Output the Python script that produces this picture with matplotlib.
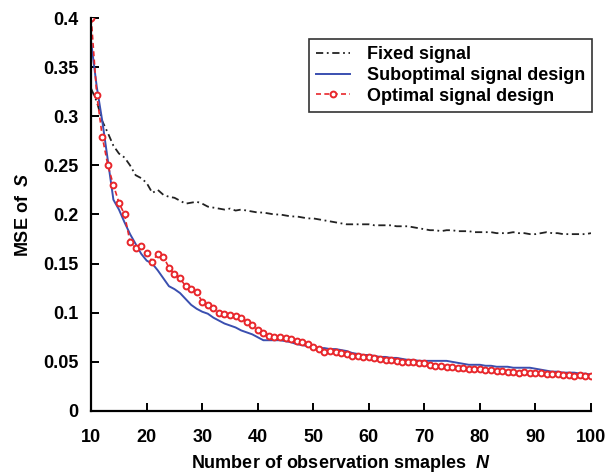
import numpy as np
import matplotlib
matplotlib.use('Agg')
import matplotlib.pyplot as plt

plt.rcParams['font.family'] = 'Liberation Sans'
plt.rcParams['font.weight'] = 'bold'
plt.rcParams['mathtext.fontset'] = 'custom'
plt.rcParams['mathtext.it'] = 'Liberation Sans:italic:bold'
plt.rcParams['mathtext.rm'] = 'Liberation Sans:bold'

n_samples = np.arange(10, 101)

fixed_signal = [
    0.328, 0.315, 0.295, 0.283, 0.270, 0.262, 0.258, 0.250, 0.240, 0.237,
    0.232, 0.222, 0.225, 0.220, 0.218, 0.217, 0.214, 0.211, 0.212, 0.213,
    0.211, 0.208, 0.207, 0.206, 0.205, 0.206, 0.204, 0.205, 0.204, 0.203,
    0.202, 0.202, 0.201, 0.200, 0.200, 0.199, 0.198, 0.198, 0.197, 0.196,
    0.196, 0.195, 0.194, 0.193, 0.192, 0.191, 0.190, 0.190, 0.190, 0.190,
    0.190, 0.189, 0.189, 0.189, 0.189, 0.188, 0.188, 0.188, 0.187, 0.186,
    0.185, 0.184, 0.184, 0.183, 0.184, 0.184, 0.183, 0.183, 0.183, 0.182,
    0.182, 0.182, 0.182, 0.181, 0.181, 0.181, 0.182, 0.181, 0.181, 0.180,
    0.180, 0.181, 0.182, 0.181, 0.181, 0.180, 0.180, 0.180, 0.180, 0.180,
    0.181,
]

suboptimal = [
    0.375, 0.330, 0.295, 0.255, 0.215, 0.205, 0.192, 0.180, 0.170, 0.160,
    0.153, 0.150, 0.143, 0.135, 0.127, 0.124, 0.120, 0.114, 0.108, 0.104,
    0.101, 0.099, 0.095, 0.092, 0.089, 0.087, 0.085, 0.082, 0.080, 0.078,
    0.075, 0.072, 0.072, 0.072, 0.072, 0.071, 0.070, 0.068, 0.067, 0.066,
    0.065, 0.064, 0.064, 0.063, 0.063, 0.062, 0.061, 0.059, 0.058, 0.057,
    0.057, 0.056, 0.055, 0.055, 0.054, 0.054, 0.053, 0.052, 0.052, 0.051,
    0.051, 0.051, 0.051, 0.051, 0.051, 0.050, 0.049, 0.048, 0.047, 0.047,
    0.047, 0.046, 0.046, 0.045, 0.045, 0.045, 0.044, 0.044, 0.044, 0.044,
    0.043, 0.042, 0.041, 0.040, 0.040, 0.039, 0.039, 0.039, 0.038, 0.038,
    0.037,
]

optimal = [
    0.400, 0.322, 0.279, 0.250, 0.230, 0.212, 0.200, 0.172, 0.166, 0.168,
    0.161, 0.152, 0.160, 0.157, 0.146, 0.139, 0.135, 0.127, 0.124, 0.121,
    0.111, 0.108, 0.105, 0.100, 0.099, 0.098, 0.097, 0.095, 0.091, 0.087,
    0.082, 0.079, 0.076, 0.075, 0.075, 0.074, 0.073, 0.071, 0.070, 0.068,
    0.065, 0.063, 0.060, 0.061, 0.060, 0.059, 0.058, 0.056, 0.056, 0.055,
    0.055, 0.054, 0.053, 0.052, 0.052, 0.051, 0.050, 0.050, 0.050, 0.049,
    0.049, 0.047, 0.046, 0.046, 0.045, 0.045, 0.044, 0.044, 0.043, 0.043,
    0.043, 0.042, 0.042, 0.041, 0.041, 0.040, 0.040, 0.039, 0.040, 0.039,
    0.039, 0.039, 0.038, 0.038, 0.038, 0.037, 0.037, 0.036, 0.037, 0.036,
    0.036,
]

fig = plt.figure(figsize=(6.08, 4.74), dpi=100)
ax = fig.add_axes([0.150, 0.133, 0.822, 0.829])

ax.plot(n_samples, fixed_signal, color='#222222', lw=1.3,
        linestyle=(0, (4, 2, 1, 2)), label='Fixed signal')
ax.plot(n_samples, suboptimal, color='#3a4fb0', lw=1.4,
        label='Suboptimal signal design')
ax.plot(n_samples, optimal, color='#e8262b', lw=1.2, linestyle=(0, (3, 2)),
        marker='o', ms=4.2, mfc='white', mec='#e8262b', mew=1.4,
        label='Optimal signal design')

ax.set_xlim(10, 100)
ax.set_ylim(0, 0.4)
ax.set_xticks(np.arange(10, 101, 10))
ax.set_yticks(np.arange(0, 0.401, 0.05))
ax.set_yticklabels(['0', '0.05', '0.1', '0.15', '0.2', '0.25', '0.3', '0.35', '0.4'])

for s in ['top', 'right']:
    ax.spines[s].set_visible(False)
for s in ['left', 'bottom']:
    ax.spines[s].set_linewidth(1.6)

ax.tick_params(direction='in', length=6, width=1.4, labelsize=13)
ax.tick_params(axis='x', pad=13)
ax.tick_params(axis='y', pad=9)

ax.set_xlabel(r'Number of observation smaples  $\mathit{N}$', fontsize=13,
              fontweight='bold', labelpad=5)
ax.set_ylabel(r'MSE of  $\mathit{S}$', fontsize=13, fontweight='bold', labelpad=8)

leg = ax.legend(loc='upper right', bbox_to_anchor=(1.002, 0.946), fontsize=13,
                frameon=True, fancybox=False, edgecolor='black',
                handlelength=1.9, borderpad=0.4, labelspacing=0.2,
                handletextpad=0.9, borderaxespad=0)
leg.get_frame().set_linewidth(1.2)

fig.savefig('out.png', dpi=100)
